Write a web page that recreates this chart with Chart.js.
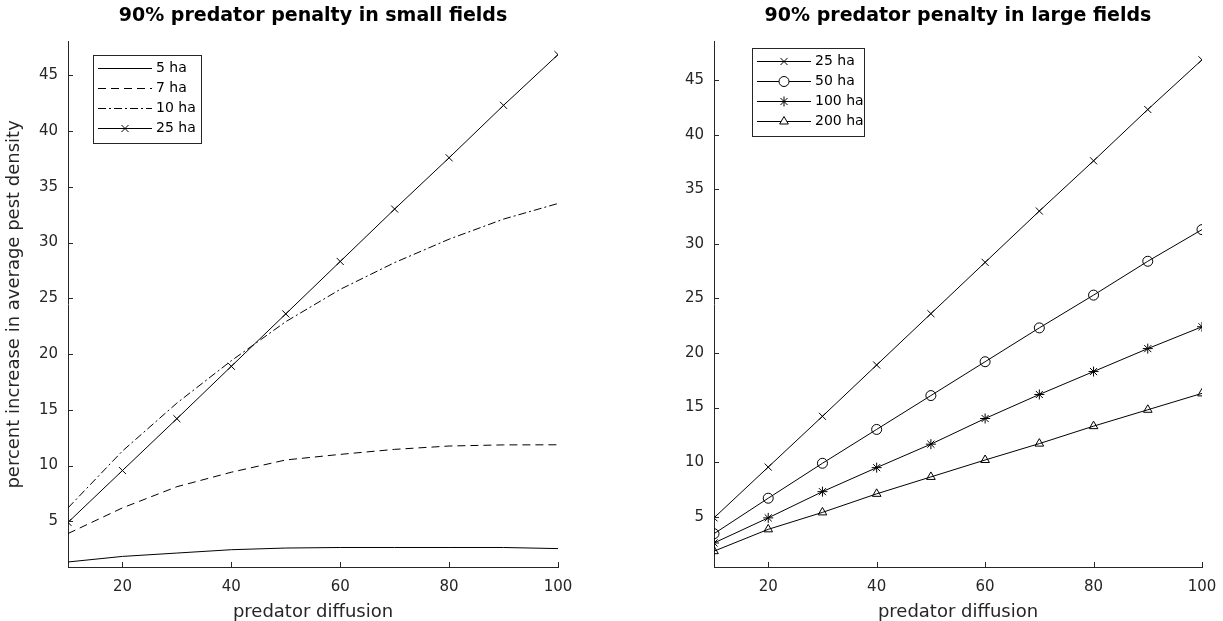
<!DOCTYPE html>
<html>
<head>
<meta charset="utf-8">
<script src="https://cdn.jsdelivr.net/npm/chart.js@4/dist/chart.umd.min.js"></script>
<style>
  html, body { margin: 0; padding: 0; background: #fff; }
  .panel { position: absolute; top: 0; height: 621px; }
  #leftPanel { left: 0; width: 611px; }
  #rightPanel { left: 611px; width: 612px; }
</style>
</head>
<body>
<div class="panel" id="leftPanel"><canvas id="smallChart"></canvas></div>
<div class="panel" id="rightPanel"><canvas id="largeChart"></canvas></div>
<script>
// predator diffusion values (x)
const diffusion = [10, 20, 30, 40, 50, 60, 70, 80, 90, 100];
const xTicks = [20, 40, 60, 80, 100];
const yTicks = [5, 10, 15, 20, 25, 30, 35, 40, 45];

// small fields
const ha5 = [1.35, 1.85, 2.15, 2.45, 2.6, 2.65, 2.65, 2.65, 2.65, 2.55];
const ha7 = [3.9, 6.2, 8.1, 9.4, 10.5, 11.0, 11.45, 11.75, 11.85, 11.86];
const ha10 = [6.2, 11.3, 15.6, 19.4, 22.9, 25.8, 28.2, 30.3, 32.1, 33.5];
const ha25 = [4.9, 9.55, 14.2, 18.9, 23.6, 28.3, 33.0, 37.6, 42.3, 46.85];

// large fields
const ha50 = [3.45, 6.7, 9.9, 13.0, 16.1, 19.2, 22.3, 25.3, 28.4, 31.3];
const ha100 = [2.6, 4.9, 7.3, 9.5, 11.65, 14.0, 16.2, 18.3, 20.4, 22.4];
const ha200 = [1.85, 3.85, 5.4, 7.1, 8.65, 10.2, 11.7, 13.3, 14.8, 16.3];

const INK = '#262626';
const FONT = "'DejaVu Sans', sans-serif";

function series(label, values, dash, marker) {
  return {
    label: label,
    data: values.map((v, i) => ({ x: diffusion[i], y: v })),
    borderColor: '#000',
    borderWidth: 1,
    borderDash: dash,
    pointStyle: marker || 'circle',
    pointRadius: marker ? 5 : 0,
    pointBorderColor: '#000',
    pointBackgroundColor: 'rgba(0,0,0,0)',
    pointBorderWidth: 1,
    tension: 0,
    fill: false
  };
}

// inward tick marks like the original figure
const innerTicks = {
  id: 'innerTicks',
  afterDraw(chart) {
    const ctx = chart.ctx;
    const a = chart.chartArea;
    const xs = chart.scales.x, ys = chart.scales.y;
    ctx.save();
    ctx.strokeStyle = INK;
    ctx.lineWidth = 1;
    ctx.beginPath();
    xTicks.forEach(t => {
      const px = Math.round(xs.getPixelForValue(t)) + 0.5;
      ctx.moveTo(px, a.bottom);
      ctx.lineTo(px, a.bottom - 5);
    });
    yTicks.forEach(t => {
      const py = Math.round(ys.getPixelForValue(t)) + 0.5;
      ctx.moveTo(a.left, py);
      ctx.lineTo(a.left + 5, py);
    });
    ctx.stroke();
    ctx.restore();
  }
};

// boxed legend drawn inside the plot
const boxLegend = {
  id: 'boxLegend',
  afterDraw(chart, args, opts) {
    const ctx = chart.ctx;
    const sets = chart.data.datasets;
    const rowH = 20;
    ctx.save();
    ctx.fillStyle = '#fff';
    ctx.fillRect(opts.x, opts.y, opts.w, rowH * sets.length + 8);
    ctx.strokeStyle = INK;
    ctx.lineWidth = 1;
    ctx.strokeRect(opts.x + 0.5, opts.y + 0.5, opts.w, rowH * sets.length + 8);
    ctx.font = '14px ' + FONT;
    ctx.textBaseline = 'middle';
    sets.forEach((ds, i) => {
      const cy = opts.y + 13 + i * rowH + 0.5;
      const x0 = opts.x + 5, x1 = opts.x + 5 + opts.line;
      ctx.strokeStyle = '#000';
      ctx.setLineDash(ds.borderDash || []);
      ctx.beginPath();
      ctx.moveTo(x0, cy);
      ctx.lineTo(x1, cy);
      ctx.stroke();
      ctx.setLineDash([]);
      if (ds.pointRadius > 0) {
        ctx.fillStyle = '#fff';
        Chart.helpers.drawPoint(ctx, { pointStyle: ds.pointStyle, radius: 5, borderWidth: 1, rotation: 0 }, (x0 + x1) / 2, cy);
      }
      ctx.fillStyle = '#000';
      ctx.fillText(ds.label, x1 + 4, cy);
    });
    ctx.restore();
  }
};

function makeOptions(title, yTitle, yMin, yMax, yWidth, padRight, legendPos) {
  return {
    responsive: true,
    maintainAspectRatio: false,
    animation: false,
    layout: { padding: { left: 0, right: padRight, top: 0, bottom: 0 } },
    plugins: {
      legend: { display: false },
      tooltip: { enabled: false },
      title: {
        display: true,
        text: title,
        fullSize: false,
        color: '#000',
        font: { family: FONT, size: 19, weight: 'bold', lineHeight: 1.2 },
        padding: { top: 5, bottom: 14 }
      },
      boxLegend: legendPos
    },
    scales: {
      x: {
        type: 'linear',
        min: 10,
        max: 100,
        afterBuildTicks: s => { s.ticks = xTicks.map(v => ({ value: v })); },
        afterFit: s => { s.height = 54; s.paddingLeft = 0; s.paddingRight = 0; },
        grid: { display: false, drawTicks: false },
        border: { display: true, color: INK, width: 1 },
        ticks: { color: INK, font: { family: FONT, size: 15 }, padding: 11 },
        title: { display: true, text: 'predator diffusion', color: INK, font: { family: FONT, size: 18 }, padding: { top: 0, bottom: -2 } }
      },
      y: {
        type: 'linear',
        min: yMin,
        max: yMax,
        afterBuildTicks: s => { s.ticks = yTicks.map(v => ({ value: v })); },
        afterFit: s => { s.width = yWidth; },
        grid: { display: false, drawTicks: false },
        border: { display: true, color: INK, width: 1 },
        ticks: { color: INK, font: { family: FONT, size: 15 }, padding: 10 },
        title: { display: !!yTitle, text: yTitle, color: INK, font: { family: FONT, size: 18 }, padding: { bottom: 0 } }
      }
    }
  };
}

new Chart(document.getElementById('smallChart'), {
  type: 'line',
  data: {
    datasets: [
      series('5 ha', ha5, []),
      series('7 ha', ha7, [8, 5]),
      series('10 ha', ha10, [8, 3, 2, 3]),
      series('25 ha', ha25, [], 'crossRot')
    ]
  },
  options: makeOptions('90% predator penalty in small fields', 'percent increase in average pest density',
    0.9, 48, 68, 53, { x: 93, y: 55, w: 108, line: 54 }),
  plugins: [innerTicks, boxLegend]
});

new Chart(document.getElementById('largeChart'), {
  type: 'line',
  data: {
    datasets: [
      series('25 ha', ha25, [], 'crossRot'),
      series('50 ha', ha50, [], 'circle'),
      series('100 ha', ha100, [], 'star'),
      series('200 ha', ha200, [], 'triangle')
    ]
  },
  options: makeOptions('90% predator penalty in large fields', '',
    0.4, 48.5, 103, 21, { x: 141, y: 48, w: 112, line: 54 }),
  plugins: [innerTicks, boxLegend]
});
</script>
</body>
</html>
